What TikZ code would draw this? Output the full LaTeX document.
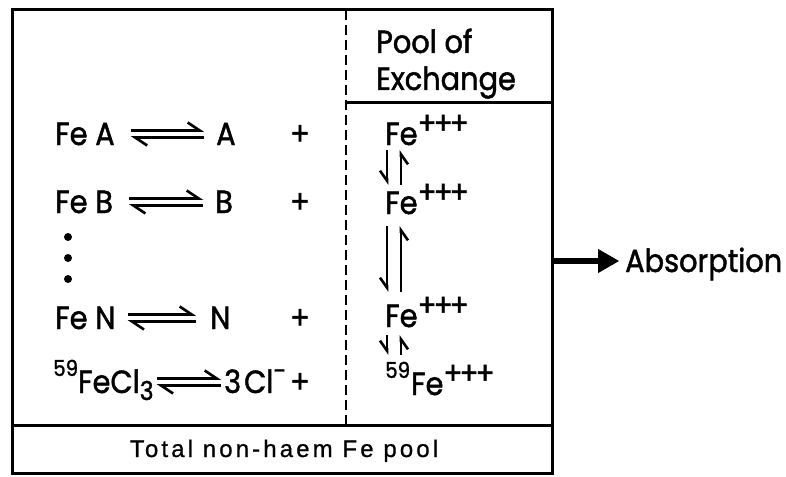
\documentclass[tikz,border=0pt]{standalone}
\usepackage{fontspec}
\setmainfont{Poppins}[FakeStretch=0.9,FakeBold=1.4]
\newfontfamily\poolfont{Liberation Sans}[LetterSpace=13,FakeBold=0.8]
\usetikzlibrary{arrows.meta,positioning}

\newcommand{\ferric}{Fe\raisebox{11pt}{\fontsize{31}{31}\selectfont +\kern-3pt+\kern-3pt+}}
\newcommand{\isotope}{\raisebox{17pt}{\fontsize{22}{22}\selectfont 59}}
\newcommand{\subthree}{\raisebox{-7pt}{\fontsize{26}{26}\selectfont 3}}
\newcommand{\chloride}{Cl\raisebox{13pt}{\fontsize{26}{26}\selectfont -}}

\begin{document}
\begin{tikzpicture}[x=1pt,y=-1pt,
    frame/.style={line width=3pt},
    divide/.style={line width=2.4pt,dash pattern=on 10pt off 5pt},
    chem/.style={anchor=west,inner sep=0pt,text height=22pt,text depth=0pt,
      font=\fontsize{32}{37}\selectfont},
    lbl/.style={anchor=base west,inner sep=0pt,font=\fontsize{32}{37}\selectfont},
    eqm/.style={line width=2.6pt,-{Straight Barb[harpoon,length=12pt,width=16pt]}},
    vharp/.style={line width=2.6pt,-{Straight Barb[harpoon,swap,length=10pt,width=14pt]}},
    bigarrow/.style={line width=6pt,-{Triangle[length=21pt,width=24pt,line width=1pt]}}]
  \useasboundingbox (0,0) rectangle (786,476);
  \fill[white] (0,0) rectangle (786,476);

  % boxes
  \draw[frame] (12,10) rectangle (552,473);
  \draw[frame] (12,425) -- (552,425);
  \draw[frame] (346,103) -- (552,103);
  \draw[divide] (346,10) -- (346,425);

  % bound forms
  \node[chem] (feA) at (55,134) {Fe A};
  \node[chem] (rA) at (216,134) {A};
  \node[chem] (feB) at (55,202) {Fe B};
  \node[chem] (rB) at (215,202) {B};
  \node[chem] (feN) at (55,318) {Fe N};
  \node[chem] (rN) at (210,318) {N};
  \node[chem] (feCl) at (53,382) {\isotope FeCl\subthree};
  \node[chem] (rCl) at (224,382) {3\kern3pt\chloride};
  \foreach \y/\n in {134/pA,202/pB,318/pN,382/pCl}
    \node[chem,anchor=center] (\n) at (300,\y) {+};
  \foreach \y/\n in {237/d1,258/d2,279/d3}
    \fill (68,\y) circle (4pt);

  \foreach \lft/\rgt/\ga/\gb in {feA/rA/16/12,feB/rB/16/12,feN/rN/12/14,feCl/rCl/3/3}{
    \draw[eqm,shorten <=\ga pt,shorten >=\gb pt]
      ([yshift=3.5pt]\lft.east) -- ([yshift=3.5pt]\rgt.west);
    \draw[eqm,shorten <=\gb pt,shorten >=\ga pt]
      ([yshift=-3.5pt]\rgt.west) -- ([yshift=-3.5pt]\lft.east);
  }

  % pool of exchange
  \node[lbl] (pool) at (376,53) {Pool of};
  \node[lbl] (exch) at (376,90) {Exchange};
  \node[chem] (fe1) at (385,134) {\ferric};
  \node[chem] (fe2) at (385,203) {\ferric};
  \node[chem] (fe3) at (385,316) {\ferric};
  \node[chem] (fe59) at (385,384) {\isotope\kern1pt\ferric};

  \draw[vharp,shorten <=5pt,shorten >=7pt]
    ([xshift=2pt]fe1.south west) -- ([xshift=2pt]fe2.north west);
  \draw[vharp,shorten <=7pt,shorten >=5pt]
    ([xshift=16pt]fe2.north west) -- ([xshift=16pt]fe1.south west);
  \draw[vharp,shorten <=12pt,shorten >=13pt]
    ([xshift=2pt]fe2.south west) -- ([xshift=2pt]fe3.north west);
  \draw[vharp,shorten <=13pt,shorten >=12pt]
    ([xshift=16pt]fe3.north west) -- ([xshift=16pt]fe2.south west);
  \draw[vharp,shorten <=8pt,shorten >=18pt]
    ([xshift=2pt]fe3.south west) -- ([xshift=2pt]fe59.north west);
  \draw[vharp,shorten <=18pt,shorten >=8pt]
    ([xshift=16pt]fe59.north west) -- ([xshift=16pt]fe3.south west);

  % total pool and outflow
  \node[font=\poolfont\fontsize{24}{28}\selectfont,anchor=base] (total) at (284,457)
    {Total non-haem Fe pool};
  \coordinate (outlet) at (552,261);
  \node[chem] (absorb) at (625,261) {Absorption};
  \draw[bigarrow,shorten >=6pt] (outlet) -- (absorb.west);
\end{tikzpicture}
\end{document}
